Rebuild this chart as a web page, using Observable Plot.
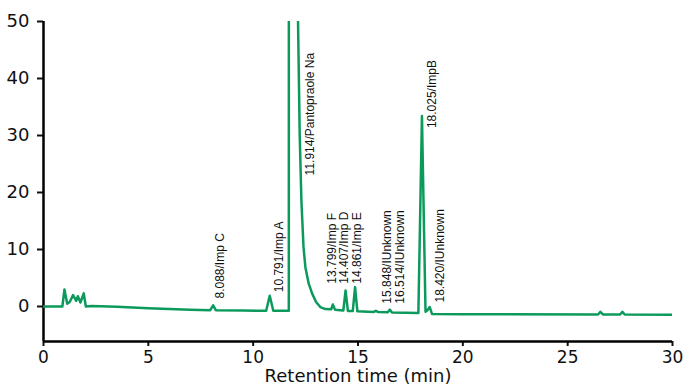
<!DOCTYPE html>
<html>
<head>
<meta charset="utf-8">
<script src="https://cdn.jsdelivr.net/npm/d3@7"></script>
<script src="https://cdn.jsdelivr.net/npm/@observablehq/plot@0.6"></script>
<style>
  html, body { margin: 0; padding: 0; background: #fff; }
</style>
</head>
<body>
<div id="chart"></div>
<script>
// Chromatogram trace (time in min, signal)
const traceTime = [
  0.00, 0.90, 1.00, 1.13, 1.25, 1.41, 1.56, 1.64, 1.76, 1.92, 2.02, 2.30,
  3.50, 5.00, 7.00, 7.95, 8.09, 8.22, 9.50, 10.62, 10.79, 10.96, 11.69,
  11.70, 11.71, 11.914, 12.10, 12.14, 12.22, 12.30, 12.40, 12.49, 12.65, 12.81,
  13.00, 13.20, 13.45, 13.72, 13.80, 13.90, 14.30, 14.407, 14.52, 14.75, 14.861,
  14.97, 15.75, 15.85, 15.95, 16.42, 16.514, 16.62, 17.88, 18.05, 18.22, 18.30,
  18.42, 18.53, 20.00, 26.45, 26.56, 26.68, 27.50, 27.61, 27.72, 30.00
];
const traceSignal = [
  0.0, 0.0, 3.0, 0.5, 0.8, 2.0, 1.0, 1.8, 0.7, 2.3, 0.0, 0.1,
  -0.05, -0.3, -0.55, -0.65, 0.2, -0.65, -0.7, -0.75, 1.9, -0.75, -0.75,
  -0.75, 300, 700, 300, 50, 30, 18.6, 10.5, 6.9, 4.0, 2.3,
  0.8, -0.1, -0.45, -0.5, 0.35, -0.55, -0.7, 2.8, -0.8, -0.8, 3.4,
  -0.85, -0.95, -0.75, -0.95, -1.0, -0.55, -1.05, -1.15, 33.4, -0.9, -0.7,
  -0.1, -1.3, -1.35, -1.4, -0.95, -1.4, -1.4, -0.95, -1.4, -1.45
];

// Peak annotations
const peakLabels = [
  "8.088/Imp C", "10.791/Imp A", "11.914/Pantopraole Na", "13.799/Imp F",
  "14.407/Imp D", "14.861/Imp E", "15.848/IUnknown", "16.514/IUnknown",
  "18.025/ImpB", "18.420/IUnknown"
];
const labelTime  = [8.44, 11.22, 12.70, 13.77, 14.32, 14.96, 16.39, 17.03, 18.54, 18.90];
const labelLevel = [1.4, 2.5, 23.0, 4.0, 4.0, 4.0, 0.5, 0.5, 31.3, 0.7];

const xTicks = [0, 5, 10, 15, 20, 25, 30];
const yTicks = [0, 10, 20, 30, 40, 50];
const xTitle = "Retention time (min)";

const trace = traceTime.map((t, i) => ({t, v: traceSignal[i]}));
const labels = peakLabels.map((s, i) => ({s, t: labelTime[i], v: labelLevel[i]}));

const yMin = -6.14, yMax = 50;
const green = "#0b9a5b";

const chart = Plot.plot({
  width: 686,
  height: 388,
  marginLeft: 43,
  marginRight: 14,
  marginTop: 21,
  marginBottom: 47,
  style: {fontFamily: "'DejaVu Sans', Verdana, sans-serif", fontSize: "18px", color: "#111", background: "#fff", overflow: "visible"},
  x: {domain: [0, 30]},
  y: {domain: [yMin, yMax]},
  marks: [
    Plot.axisX({ticks: xTicks, tickSize: 5, tickPadding: 4, fontSize: 17, strokeWidth: 2,
      label: null, tickFormat: d => String(d)}),
    Plot.axisY({ticks: yTicks, tickSize: 6, tickPadding: 8, fontSize: 18, strokeWidth: 2,
      label: null, tickFormat: d => String(d)}),
    Plot.text([xTitle], {frameAnchor: "bottom", lineAnchor: "top", dy: 28, fontSize: 18, fill: "#111"}),
    Plot.ruleX([0], {y1: yMin, y2: yMax, stroke: "#000", strokeWidth: 2.5}),
    Plot.ruleY([yMin], {stroke: "#000", strokeWidth: 2.5}),
    Plot.line(trace, {x: "t", y: "v", stroke: green, strokeWidth: 2.5, clip: true, curve: "linear"}),
    Plot.text(labels, {x: "t", y: "v", text: "s", rotate: -90, textAnchor: "start",
      fontFamily: "'Liberation Sans', Arial, sans-serif", fontSize: 12, fill: "#111"})
  ]
});
document.getElementById("chart").appendChild(chart);
</script>
</body>
</html>
